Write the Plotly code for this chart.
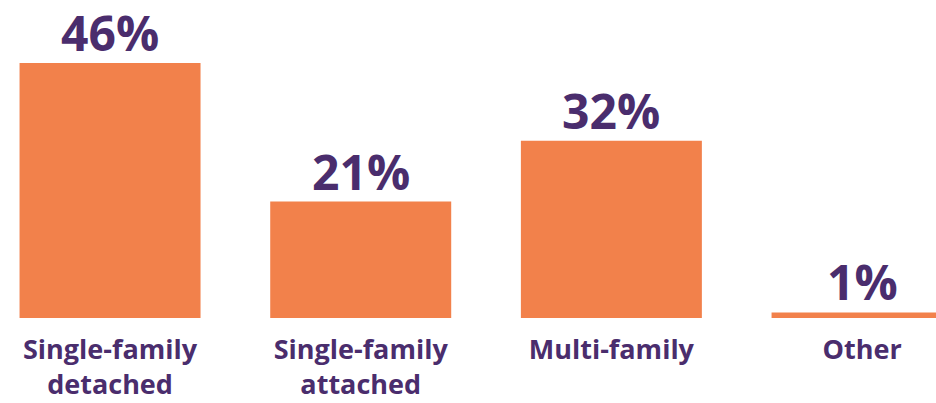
import plotly.graph_objects as go

categories = ['Single-family<br>detached', 'Single-family<br>attached', 'Multi-family', 'Other']
shares = [46, 21, 32, 1]
labels = ['46%', '21%', '32%', '1%']

ORANGE = '#F2814B'
PURPLE = '#4A2D6D'
FONT = 'Open Sans'

fig = go.Figure()

fig.add_trace(
    go.Bar(x=list(range(len(categories))),
           y=shares,
           width=0.722,
           marker=dict(color=ORANGE, line=dict(width=0)),
           hoverinfo='skip')
)

## porcentajes encima de cada barra
for i, (v, t) in enumerate(zip(shares, labels)):
    fig.add_annotation(x=i, y=v, text=t, showarrow=False,
                       yanchor='bottom', yshift=-4,
                       font=dict(family=FONT, size=48, color=PURPLE, weight='bold'))

fig.update_layout(
    width=936, height=403,
    margin=dict(l=0, r=0, t=0, b=85, autoexpand=False),
    paper_bgcolor='white', plot_bgcolor='white',
    showlegend=False,
    xaxis=dict(range=[-0.439, 3.295], tickmode='array',
               tickvals=list(range(len(categories))), ticktext=categories,
               showgrid=False, zeroline=False, showline=False, ticks='',
               automargin=False, ticklabelstandoff=13,
               tickfont=dict(family=FONT, size=27, color=PURPLE, weight='bold')),
    yaxis=dict(range=[0, 57.37], visible=False, showgrid=False, zeroline=False),
)

## quitar el margen del body para que la figura quede en (0, 0)
fig.write_html("out.html", config={'displayModeBar': False},
               post_script="document.body.style.margin='0';document.body.style.overflow='hidden';")
